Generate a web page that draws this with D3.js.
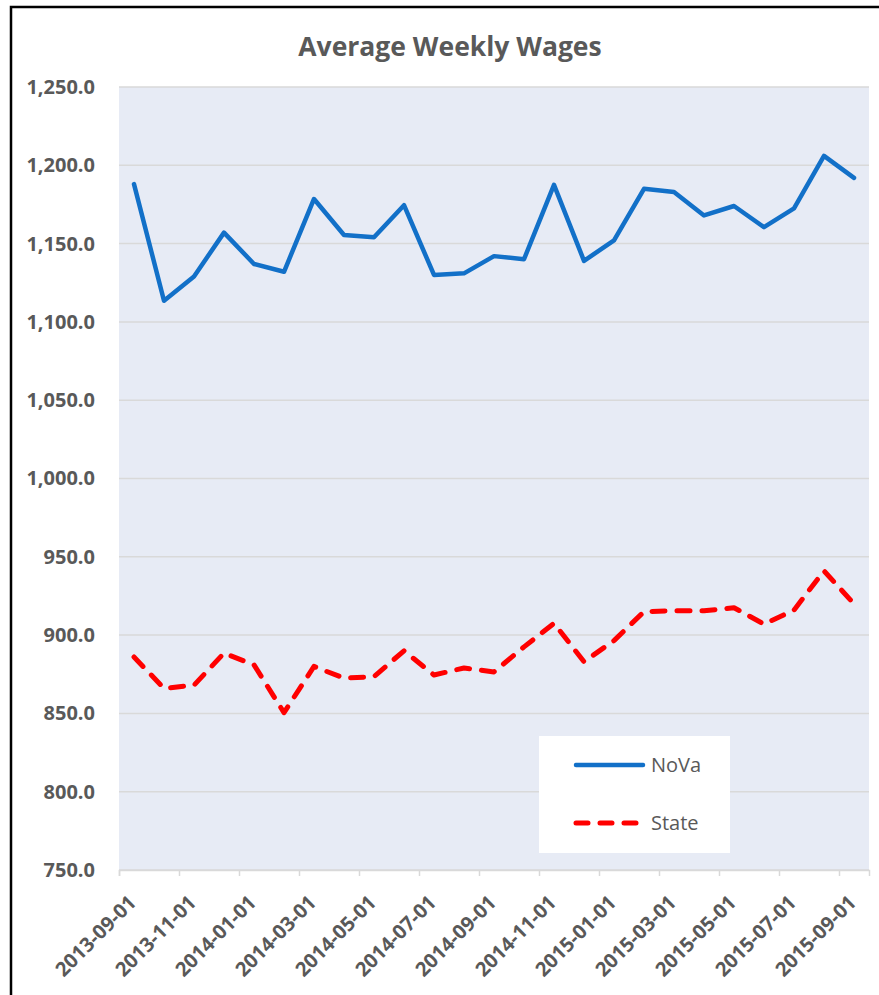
<!DOCTYPE html>
<html>

<head>
    <meta http-equiv="Content-Type" content="text/html;" charset="utf-8">
    <script type="text/javascript" src="https://cdn.jsdelivr.net/npm/d3@7/dist/d3.min.js"></script>
    <style>
        body { margin: 0; background: #fff; }
    </style>
</head>

<body>
    <div class="chart-div"></div>
    <script type="text/javascript">

        var width = 879;
        var height = 995;

        //--------------------------------------------DATA

        var months = ["2013-09-01", "2013-10-01", "2013-11-01", "2013-12-01", "2014-01-01", "2014-02-01",
            "2014-03-01", "2014-04-01", "2014-05-01", "2014-06-01", "2014-07-01", "2014-08-01",
            "2014-09-01", "2014-10-01", "2014-11-01", "2014-12-01", "2015-01-01", "2015-02-01",
            "2015-03-01", "2015-04-01", "2015-05-01", "2015-06-01", "2015-07-01", "2015-08-01",
            "2015-09-01"]

        var nova = [1188, 1113.5, 1129, 1157, 1137, 1132, 1178.5, 1155.5, 1154, 1174.5, 1130, 1131,
            1142, 1140, 1187.5, 1139, 1152, 1185, 1183, 1168, 1174, 1160.5, 1172.5, 1206, 1192]

        var state = [886, 866, 868, 888.5, 881, 850.5, 880, 872.5, 873.5, 890, 874.5, 879,
            876.5, 892.5, 907.5, 883, 896.5, 915, 915.5, 915.5, 917.5, 907, 916, 941, 920]

        var tickLabels = ["2013-09-01", "2013-11-01", "2014-01-01", "2014-03-01", "2014-05-01",
            "2014-07-01", "2014-09-01", "2014-11-01", "2015-01-01", "2015-03-01", "2015-05-01",
            "2015-07-01", "2015-09-01"]

        var yTicks = d3.range(750, 1251, 50)

        var seriesNames = ["NoVa", "State"]

        //--------------------------------------------CONTAINERS

        var plotLeft = 119, plotRight = 869, plotTop = 87, plotBottom = 870;
        var textColor = "#595959";
        var fontFam = "'Open Sans', 'DejaVu Sans', sans-serif";

        var svg = d3.select("div.chart-div")
            .append("svg")
            .attr("width", width)
            .attr("height", height);

        // outer frame (only left and top edges fall inside the picture)
        svg.append("rect")
            .attr("x", 11)
            .attr("y", 7)
            .attr("width", 1000)
            .attr("height", 1100)
            .attr("fill", "#fff")
            .attr("stroke", "#000")
            .attr("stroke-width", 2.5);

        //------------------------------------------ SCALES

        var x = d3.scaleLinear()
            .domain([0, months.length])
            .range([plotLeft, plotRight]);

        var y = d3.scaleLinear()
            .domain([750, 1250])
            .range([plotBottom, plotTop]);

        var plot = svg.append("g");

        plot.append("rect")
            .attr("x", plotLeft)
            .attr("y", plotTop)
            .attr("width", plotRight - plotLeft)
            .attr("height", plotBottom - plotTop)
            .attr("fill", "#e7ebf5");

        // grid
        plot.selectAll("line.grid")
            .data(yTicks)
            .enter().append("line")
            .attr("class", "grid")
            .attr("x1", plotLeft)
            .attr("x2", plotRight)
            .attr("y1", function (d) { return y(d); })
            .attr("y2", function (d) { return y(d); })
            .attr("stroke", "#d9d9d9")
            .attr("stroke-width", 1.5);

        //------------------------------------------ AXES

        var yAxis = d3.axisLeft(y)
            .tickValues(yTicks)
            .tickSize(0)
            .tickPadding(24)
            .tickFormat(d3.format(",.1f"));

        var gy = svg.append("g")
            .attr("transform", "translate(" + plotLeft + ",0)")
            .call(yAxis);
        gy.select(".domain").remove();
        gy.selectAll("text")
            .attr("fill", textColor)
            .attr("font-family", fontFam)
            .attr("font-weight", "bold")
            .attr("font-size", 20);

        var xAxis = d3.axisBottom(x)
            .tickValues(d3.range(0, months.length, 2))
            .tickSize(6)
            .tickFormat(function (d, i) { return tickLabels[i]; });

        var gx = svg.append("g")
            .attr("transform", "translate(0," + plotBottom + ")")
            .call(xAxis);
        gx.select(".domain")
            .attr("stroke", "#d9d9d9")
            .attr("stroke-width", 1.5);
        gx.selectAll(".tick line")
            .attr("stroke", "#d9d9d9")
            .attr("stroke-width", 1.5);
        gx.selectAll("text")
            .attr("fill", textColor)
            .attr("font-family", fontFam)
            .attr("font-weight", "bold")
            .attr("font-size", 20)
            .attr("text-anchor", "end")
            .attr("dy", "0.35em")
            .attr("transform", "translate(13,29) rotate(-45)")
            .attr("y", 0)
            .attr("x", 0);

        //------------------------------------------ LINES

        var theline = d3.line()
            .x(function (d, i) { return x(i + 0.5); })
            .y(function (d) { return y(d); });

        plot.append("path")
            .attr("fill", "none")
            .attr("stroke", "#1270c8")
            .attr("stroke-width", 4.5)
            .attr("stroke-linejoin", "round")
            .attr("stroke-linecap", "round")
            .attr("d", theline(nova));

        plot.append("path")
            .attr("fill", "none")
            .attr("stroke", "#ff0000")
            .attr("stroke-width", 5)
            .attr("stroke-linejoin", "round")
            .attr("stroke-linecap", "round")
            .style("stroke-dasharray", "13,12")
            .attr("d", theline(state));

        //+++++++++++++++++++++++++++++++ TITLE & LEGEND ++++++++++++++++++++++++++++

        svg.append("text")
            .attr("x", 450)
            .attr("y", 56)
            .attr("text-anchor", "middle")
            .attr("font-family", fontFam)
            .attr("font-weight", "bold")
            .attr("font-size", 26.5)
            .attr("fill", textColor)
            .text("Average Weekly Wages");

        var legend = svg.append("g");

        legend.append("rect")
            .attr("x", 539)
            .attr("y", 736)
            .attr("width", 191)
            .attr("height", 117)
            .attr("fill", "#fff");

        var legendStyles = [
            { color: "#1270c8", dash: null, width: 4.5 },
            { color: "#ff0000", dash: "12,12", width: 5 }
        ];

        seriesNames.forEach(function (name, i) {
            var ly = 765 + i * 58;
            legend.append("line")
                .attr("x1", 576)
                .attr("x2", 643)
                .attr("y1", ly)
                .attr("y2", ly)
                .attr("stroke", legendStyles[i].color)
                .attr("stroke-width", legendStyles[i].width)
                .attr("stroke-linecap", "round")
                .style("stroke-dasharray", legendStyles[i].dash);
            legend.append("text")
                .attr("x", 651)
                .attr("y", ly)
                .attr("dy", "0.35em")
                .attr("font-family", fontFam)
                .attr("font-size", 20)
                .attr("fill", textColor)
                .text(name);
        });

    </script>

</body>

</html>
